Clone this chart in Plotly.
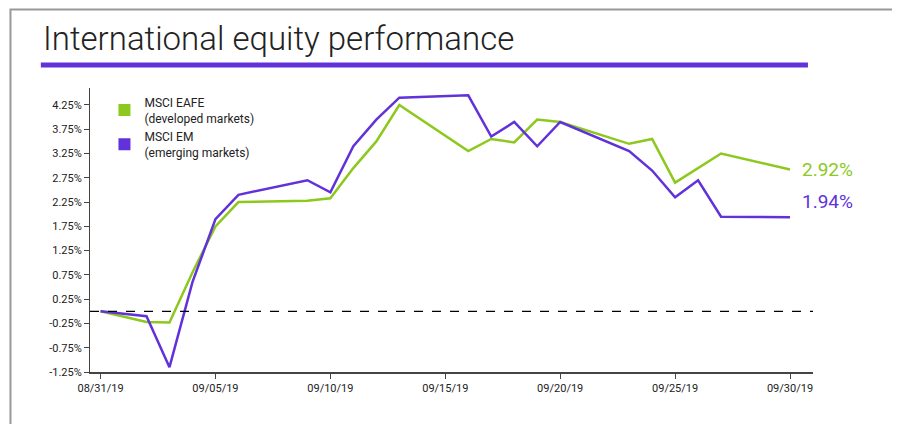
import plotly.graph_objects as go

dates = ['2019-08-31', '2019-09-02', '2019-09-03', '2019-09-04', '2019-09-05', '2019-09-06',
         '2019-09-09', '2019-09-10', '2019-09-11', '2019-09-12', '2019-09-13',
         '2019-09-16', '2019-09-17', '2019-09-18', '2019-09-19', '2019-09-20',
         '2019-09-23', '2019-09-24', '2019-09-25', '2019-09-26', '2019-09-27', '2019-09-30']
eafe = [0, -0.22, -0.23, 0.8, 1.75, 2.25, 2.28, 2.33, 2.95, 3.5, 4.25,
        3.3, 3.55, 3.48, 3.95, 3.9, 3.45, 3.55, 2.65, 2.95, 3.25, 2.92]
em = [0, -0.1, -1.15, 0.6, 1.9, 2.4, 2.7, 2.45, 3.4, 3.95, 4.4,
      4.45, 3.6, 3.9, 3.4, 3.9, 3.3, 2.9, 2.35, 2.7, 1.95, 1.94]
tick_dates = ['2019-08-31', '2019-09-05', '2019-09-10', '2019-09-15', '2019-09-20', '2019-09-25', '2019-09-30']
tick_labels = ['08/31/19', '09/05/19', '09/10/19', '09/15/19', '09/20/19', '09/25/19', '09/30/19']
y_ticks = [-1.25, -0.75, -0.25, 0.25, 0.75, 1.25, 1.75, 2.25, 2.75, 3.25, 3.75, 4.25]

GREEN = '#8cc81e'
PURPLE = '#6131d9'

fig = go.Figure()
fig.add_trace(go.Scatter(x=dates, y=eafe, mode='lines', line=dict(color=GREEN, width=2.5), showlegend=False))
fig.add_trace(go.Scatter(x=dates, y=em, mode='lines', line=dict(color=PURPLE, width=2.5), showlegend=False))
# legend entries with square swatches
fig.add_trace(go.Scatter(x=[None], y=[None], mode='markers', name='MSCI EAFE<br>(developed markets)',
                         marker=dict(symbol='square', color=GREEN, size=10)))
fig.add_trace(go.Scatter(x=[None], y=[None], mode='markers', name='MSCI EM<br>(emerging markets)',
                         marker=dict(symbol='square', color=PURPLE, size=10)))

fig.add_hline(y=0, line=dict(color='black', width=1.3, dash='dash'))

fig.add_annotation(x=dates[-1], y=eafe[-1], text=f'{eafe[-1]:.2f}%', xanchor='left', xshift=10,
                   showarrow=False, font=dict(size=19, color=GREEN))
fig.add_annotation(x=dates[-1], y=em[-1], text=f'{em[-1]:.2f}%', xanchor='left', xshift=10, yshift=16,
                   showarrow=False, font=dict(size=19, color=PURPLE))

# title, underline and frame
fig.add_annotation(xref='paper', yref='paper', x=-0.068, y=1.1, xanchor='left', yanchor='bottom',
                   text='International equity performance', showarrow=False,
                   font=dict(size=33, color='#222', family='Roboto', weight=300))
fig.add_shape(type='line', xref='paper', yref='paper', x0=-0.068, x1=0.993, y0=1.081, y1=1.081,
              line=dict(color=PURPLE, width=5))
fig.add_shape(type='rect', xref='paper', yref='paper', x0=-0.11, x1=1.128, y0=-0.205, y1=1.276,
              line=dict(color='#999', width=2))

fig.update_layout(
    width=900, height=424,
    margin=dict(l=82, r=95, t=80, b=60),
    plot_bgcolor='white', paper_bgcolor='white',
    font=dict(family='Roboto', size=11, color='#222'),
    legend=dict(x=0.02, y=1.0, xanchor='left', yanchor='top', bgcolor='rgba(0,0,0,0)',
                font=dict(size=12), itemsizing='constant', tracegroupgap=8),
    xaxis=dict(type='date', range=['2019-08-30 13:00', '2019-10-01 00:00'],
               tickvals=tick_dates, ticktext=tick_labels, showgrid=False,
               showline=True, linecolor='#444', linewidth=2, ticks='outside', ticklen=5, tickcolor='#444'),
    yaxis=dict(range=[-1.25, 4.6], tickvals=y_ticks, ticktext=[f'{v:.2f}%' for v in y_ticks],
               showgrid=False, zeroline=False, showline=True, linecolor='#444', linewidth=1,
               ticks='outside', ticklen=5, tickcolor='#444'),
)

fig.write_html("out.html")
